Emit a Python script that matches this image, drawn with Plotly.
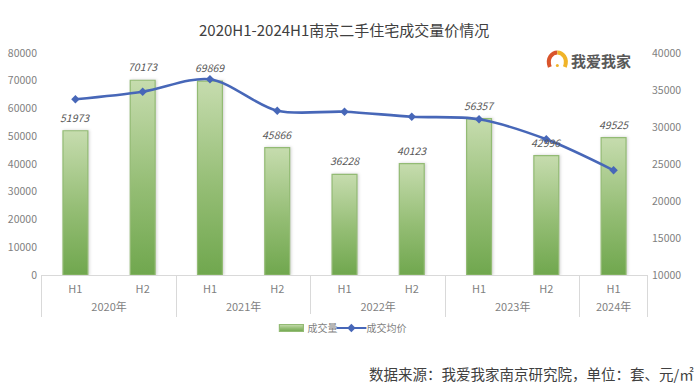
import plotly.graph_objects as go

W, H = 698, 385
L, R, T, B = 40.5, 50.3, 53, 110

years = ["2020年", "2020年", "2021年", "2021年", "2022年", "2022年", "2023年", "2023年", "2024年"]
halves = ["H1", "H2", "H1", "H2", "H1", "H2", "H1", "H2", "H1"]
volume = [51973, 70173, 69869, 45866, 36228, 40123, 56357, 42996, 49525]
price = [33750, 34770, 36450, 32200, 32070, 31390, 31040, 28340, 24150]

GREY = "#7f7f7f"
FONT = "Noto Sans CJK SC"


def px(x):
    return (x - L) / (W - L - R)


def py(y):
    return 1 - (y - T) / (H - T - B)


fig = go.Figure()
fig.add_bar(
    x=[years, halves], y=volume, name="成交量", width=0.37,
    marker=dict(color="#9cc47c", line=dict(color="#93bb74", width=1.2)),
)
fig.add_scatter(
    x=[years, halves], y=price, name="成交均价", yaxis="y2", mode="lines+markers",
    line=dict(color="#4767b8", width=2.6, shape="spline", smoothing=0.9),
    marker=dict(symbol="diamond", size=6.5, color="#4767b8"),
)

annotations = [
    dict(x=[y, h], y=v, xref="x", yref="y", text=f"<i>{v}</i>", showarrow=False,
         yanchor="bottom", yshift=4, font=dict(size=10.5, color="#595959", family=FONT))
    for y, h, v in zip(years, halves, volume)
]
annotations += [
    dict(x=px(344), y=py(29), xref="paper", yref="paper", xanchor="center", yanchor="middle",
         text="2020H1-2024H1南京二手住宅成交量价情况",
         showarrow=False, font=dict(size=15, color="#404040", family=FONT)),
    dict(x=px(601), y=py(60.5), xref="paper", yref="paper", xanchor="center", yanchor="middle",
         text="<b>我爱我家</b>",
         showarrow=False, font=dict(size=15, color="#595959", family=FONT)),
    dict(x=px(531.5), y=py(373), xref="paper", yref="paper", xanchor="center", yanchor="middle",
         text="数据来源：我爱我家南京研究院，单位：套、元/㎡",
         showarrow=False, font=dict(size=14.5, color="#404040", family=FONT)),
]

shapes = [
    dict(type="path", xref="paper", yref="paper", line=dict(color="#d9542b", width=4),
         path=f"M{px(549.5)},{py(67)} C{px(546)},{py(58)} {px(552)},{py(52.5)} {px(557)},{py(52.5)}"),
    dict(type="path", xref="paper", yref="paper", line=dict(color="#f0b429", width=4),
         path=f"M{px(557)},{py(52.5)} C{px(562)},{py(52.5)} {px(568)},{py(58)} {px(564.5)},{py(67)}"),
    dict(type="circle", xref="paper", yref="paper", fillcolor="#f0b429", line=dict(width=0),
         x0=px(555.5), x1=px(558.5), y0=py(67), y1=py(64)),
]

fig.update_layout(
    width=W, height=H, autosize=False, margin=dict(l=L, r=R, t=T, b=B),
    paper_bgcolor="white", plot_bgcolor="white", bargap=0.63,
    font=dict(family=FONT, size=11, color=GREY), hovermode=False,
    annotations=annotations, shapes=shapes,
    xaxis=dict(type="multicategory", automargin=False, showgrid=False, showline=True,
               linecolor="#d9d9d9", dividercolor="#d9d9d9", dividerwidth=1, showdividers=True,
               ticks="", ticklabelstandoff=4, tickfont=dict(size=11, color=GREY)),
    yaxis=dict(range=[0, 80000], dtick=10000, tickformat="d", automargin=False, showgrid=False,
               zeroline=False, ticklabelstandoff=3, tickfont=dict(size=10.5, color=GREY), ticks=""),
    yaxis2=dict(range=[10000, 40000], dtick=5000, tickformat="d", overlaying="y", side="right",
                automargin=False, showgrid=False, zeroline=False, ticklabelstandoff=3,
                tickfont=dict(size=10.5, color=GREY), ticks=""),
    legend=dict(orientation="h", x=px(347), y=py(328), xanchor="center", yanchor="middle",
                font=dict(size=10, color=GREY), itemwidth=30, tracegroupgap=0),
)

post = """
document.body.style.margin = '0';
var gd = document.getElementById('{plot_id}');
var svg = gd.querySelector('svg.main-svg');
var NS = 'http://www.w3.org/2000/svg';
var defs = svg.querySelector('defs');
var grad = document.createElementNS(NS, 'linearGradient');
grad.setAttribute('id', 'barGrad');
grad.setAttribute('x1', '0'); grad.setAttribute('y1', '0');
grad.setAttribute('x2', '0'); grad.setAttribute('y2', '1');
[['0%', '#c6dcae'], ['55%', '#94bd74'], ['100%', '#70a74e']].forEach(function (s) {
  var st = document.createElementNS(NS, 'stop');
  st.setAttribute('offset', s[0]); st.setAttribute('stop-color', s[1]);
  grad.appendChild(st);
});
defs.appendChild(grad);
gd.querySelectorAll('.barlayer .point path').forEach(function (p) {
  p.style.setProperty('fill', 'url(#barGrad)');
  p.style.setProperty('fill-opacity', '1');
  p.style.setProperty('filter', 'drop-shadow(1.5px 0.5px 1.5px rgba(0,0,0,0.18))');
});
var items = gd.querySelectorAll('.legend .traces');
items[0].querySelectorAll('.legendpoints path').forEach(function (p) {
  p.setAttribute('d', 'M16,3.5H-8V-3.5H16Z');
  p.style.setProperty('fill', 'url(#barGrad)');
  p.style.setProperty('fill-opacity', '1');
});
var m = /translate\\(([-\\d.]+),\\s*([-\\d.]+)\\)/.exec(items[1].getAttribute('transform'));
if (m) {
  items[1].setAttribute('transform', 'translate(' + (parseFloat(m[1]) - 16) + ',' + m[2] + ')');
}
items[1].querySelectorAll('.legendlines, .legendsymbols').forEach(function (g) {
  g.setAttribute('transform', 'translate(5,0)');
});
items[1].querySelectorAll('.legendlines path').forEach(function (p) {
  p.style.setProperty('stroke-width', '2px');
});
gd.querySelectorAll('.xtick2').forEach(function (g) {
  g.setAttribute('transform', 'translate(0,4)');
});
gd.querySelectorAll('.xdivider').forEach(function (p) {
  var dm = /^M([-\\d.]+),([-\\d.]+)v([-\\d.]+)/.exec(p.getAttribute('d'));
  if (dm) {
    var y = parseFloat(dm[2]), v = parseFloat(dm[3]);
    if (v > 0) { v += 6; } else { y += 6; v -= 6; }
    p.setAttribute('d', 'M' + dm[1] + ',' + y + 'v' + v);
  }
});
"""
fig.write_html("out.html", post_script=post, config=dict(displayModeBar=False))
